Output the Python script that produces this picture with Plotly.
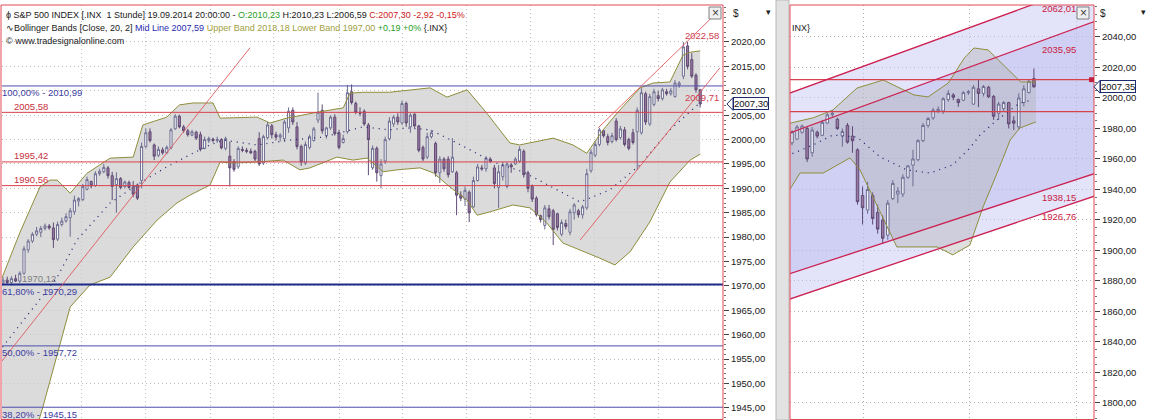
import plotly.graph_objects as go

# ---------------- LEFT PANEL: S&P 500 hourly candles ----------------
L_open = [1970.6,1971.2,1970.7,1971.5,1971.0,1972.6,1977.4,1979.2,1980.6,1981.0,
          1981.8,1982.3,1981.9,1979.6,1982.6,1983.3,1984.0,1985.2,1987.4,1987.7,
          1989.8,1991.4,1990.6,1993.0,1993.4,1994.2,1992.6,1990.8,1992.0,1990.4,
          1991.2,1990.3,1990.7,1991.6,1998.6,2001.6,1998.9,1996.8,1997.9,1997.3,
          1998.3,2002.2,2004.8,2002.6,2001.8,2000.9,2001.5,2001.0,1998.2,1999.8,
          2000.1,1999.8,2000.0,1998.2,1996.6,1995.5,1994.4,1998.0,1997.8,1997.6,
          1997.6,2000.2,1995.2,2000.4,2002.8,2001.0,2000.5,2000.2,2002.4,2006.0,
          2002.6,1998.6,1995.2,1998.4,1999.8,2004.0,2006.0,2000.8,2002.4,2004.6,
          2001.4,1999.4,2001.6,2009.8,2007.4,2005.6,2005.8,2003.0,1994.2,1998.2,
          1992.6,1995.6,2000.2,2003.2,2004.6,2003.4,2007.4,2002.6,2005.2,2002.8,
          1998.4,1996.4,2000.6,1999.2,1993.2,1996.0,1996.0,1993.4,1993.2,1988.6,
          1987.8,1989.2,1986.2,1991.6,1994.2,1994.0,1996.0,1994.2,1990.2,1992.4,
          1990.4,1994.8,1995.0,1995.6,1997.6,1993.2,1990.4,1988.0,1984.4,1982.4,
          1985.8,1985.4,1984.8,1980.6,1982.8,1981.0,1985.0,1985.4,1984.6,1986.0,
          1993.6,1996.8,1999.0,2001.8,2000.6,1999.6,2003.8,2000.4,2002.0,2000.0,
          2001.4,2001.6,2001.4,2009.4,2003.2,2007.2,2009.0,2008.4,2009.8,2009.4,
          2008.8,2011.2,2013.0,2019.2,2016.4,2013.2,2010.23]
L_high = [1971.8,1971.9,1972.0,1972.3,1973.0,1978.2,1979.6,1981.0,1982.1,1982.3,
          1982.8,1982.7,1983.0,1983.2,1984.0,1984.9,1986.0,1988.5,1988.2,1990.9,
          1992.4,1991.6,1993.5,1994.0,1995.0,1994.6,1993.4,1993.3,1992.3,1991.6,
          1991.6,1991.5,1991.0,1999.4,2002.3,2002.3,1999.2,1998.6,1998.4,1998.8,
          2002.4,2005.2,2005.1,2003.0,2002.2,2002.0,2001.8,2001.6,2000.6,2000.6,
          2000.4,2000.6,2000.3,2000.6,1999.6,1996.0,1998.6,1998.6,1998.3,1998.2,
          1997.9,2001.5,2001.0,2003.6,2003.2,2001.6,2001.3,2004.0,2006.6,2006.6,
          2003.6,1999.0,1999.6,2001.0,2002.6,2009.6,2007.2,2002.6,2005.0,2005.2,
          2002.0,2001.0,2011.2,2011.3,2007.8,2006.6,2006.2,2003.4,1998.8,1998.6,
          1996.0,2000.6,2004.6,2005.0,2005.4,2008.0,2007.8,2005.4,2005.4,2003.0,
          1998.8,2001.4,2002.0,1999.6,1996.6,1996.4,1996.6,2000.3,1993.6,1989.4,
          1990.4,1989.6,1992.4,1995.0,1994.8,1996.6,1996.4,1994.8,1994.8,1995.4,
          1995.4,1995.2,1996.4,1998.6,1998.0,1993.6,1990.8,1988.4,1984.6,1986.6,
          1986.6,1985.8,1985.0,1983.6,1983.6,1985.8,1987.0,1985.8,1986.6,1994.0,
          1998.0,1999.6,2002.4,2002.0,2001.2,2001.4,2004.4,2002.8,2002.6,2000.4,
          2002.2,2006.6,2010.6,2009.8,2009.4,2010.4,2010.0,2010.6,2010.4,2010.6,
          2012.2,2012.0,2020.0,2020.0,2017.7,2013.6,2010.23]
L_low = [1970.1,1970.3,1970.12,1970.8,1970.6,1972.3,1976.8,1978.8,1980.2,1980.0,
         1981.4,1981.5,1977.8,1979.2,1982.2,1983.0,1980.1,1984.6,1986.3,1987.4,
         1989.6,1990.0,1990.3,1992.6,1993.1,1992.0,1987.6,1985.0,1989.8,1990.0,
         1989.9,1988.2,1987.6,1990.0,1998.2,1999.4,1995.8,1996.4,1996.9,1997.0,
         1998.0,2002.0,2002.3,2001.4,2000.6,2000.7,1999.9,1997.6,1998.0,1999.3,
         1999.4,1999.3,1998.0,1997.8,1990.4,1993.4,1994.0,1997.4,1997.2,1997.0,
         1995.6,1994.6,1994.8,2000.0,2000.2,1999.8,1999.6,1999.6,2001.4,2003.0,
         1998.0,1994.6,1994.8,1998.0,1999.6,2003.4,2001.2,2000.2,2002.0,2000.8,
         1998.0,1999.2,2001.2,2007.2,2005.2,2004.8,2002.8,1992.7,1993.8,1991.4,
         1990.0,1995.0,1999.8,2002.6,2003.0,2003.0,2002.6,2001.4,2002.4,1997.4,
         1995.6,1996.0,2000.2,1992.4,1991.1,1993.4,1992.2,1993.2,1984.5,1987.4,
         1986.4,1983.1,1986.0,1991.4,1993.6,1993.4,1995.2,1990.0,1986.0,1991.6,
         1990.0,1993.2,1994.8,1995.2,1992.2,1989.2,1987.2,1984.2,1983.0,1981.6,
         1983.6,1978.4,1981.4,1980.2,1981.6,1980.4,1983.6,1984.0,1983.8,1985.6,
         1993.2,1996.4,1998.6,2000.4,1998.8,1999.2,1999.6,2000.0,1998.6,1997.8,
         1999.0,1993.8,2001.0,2003.0,2002.8,2006.8,2007.8,2008.0,2009.0,2009.0,
         2008.6,2010.6,2012.4,2014.4,2012.6,2009.6,2006.59]
L_close = [1971.2,1970.7,1971.5,1971.0,1972.6,1977.6,1979.2,1980.6,1981.3,1981.8,
           1982.3,1981.9,1979.5,1982.6,1983.3,1984.2,1985.4,1987.6,1987.9,1990.4,
           1991.8,1990.5,1993.0,1993.5,1994.3,1992.6,1990.4,1992.0,1990.2,1991.3,
           1990.2,1988.8,1988.0,1998.6,2001.4,1999.8,1996.6,1998.0,1997.3,1998.4,
           2002.0,2004.8,2002.6,2001.8,2001.0,2001.6,2000.3,1998.0,2000.0,2000.2,
           1999.8,2000.0,1998.3,2000.2,1994.2,1993.9,1998.2,1997.8,1997.6,1997.3,
           1996.0,1995.0,2000.6,2003.0,2001.0,2000.5,2000.9,2003.6,2005.8,2003.6,
           1998.6,1995.4,1999.0,2000.6,2002.2,2005.6,2001.8,2002.4,2004.6,2001.2,
           1998.4,2000.2,2009.6,2007.6,2005.6,2005.4,2003.2,2000.0,1998.2,1993.2,
           1995.0,2000.0,2003.8,2004.6,2003.6,2007.4,2003.4,2005.0,2002.8,1997.8,
           1996.0,2000.6,2001.4,1993.2,1996.0,1994.0,1992.8,1996.4,1988.6,1988.0,
           1989.6,1985.0,1991.6,1994.4,1994.0,1996.2,1995.6,1991.0,1993.4,1994.8,
           1995.0,1994.4,1996.0,1998.0,1992.8,1990.0,1987.8,1984.6,1983.6,1986.0,
           1984.2,1981.6,1982.0,1983.0,1982.2,1985.2,1986.6,1984.6,1986.2,1993.0,
           1997.4,1999.0,2002.0,2000.8,1999.4,2000.8,2000.0,2002.2,1999.0,1998.2,
           1999.4,2006.0,2009.6,2003.6,2008.8,2009.8,2008.4,2010.2,2009.4,2010.0,
           2011.6,2011.6,2019.0,2015.0,2013.0,2010.2,2007.30]
L_bars = list(range(len(L_close)))

# Bollinger bands (20, 2)
L_up_x = [-1,4,8.8,11.2,12.9,16,20,25.5,31,33.3,39,42,45.2,50,51.7,60.5,63.6,67.6,74.8,81,
          82.6,85.7,92,101.7,105.7,110.5,115.2,120.7,123,131,135.7,139,142.9,146.4,151.7,
          154.8,158.8,161.9,163.6,166]
L_up_v = [1970.0,1980.9,1990.3,1991.7,1991.7,1989.0,1993.1,1996.2,1996.4,2003.0,2004.6,2007.1,
          2007.5,2007.5,2004.4,2004.6,2003.4,2004.4,2005.6,2006.5,2009.5,2009.7,2009.7,2010.6,
          2008.7,2010.2,2005.4,1999.3,1998.9,2000.3,1998.9,1997.2,2002.0,2005.6,2010.6,2011.6,
          2011.8,2017.3,2017.9,2018.18]
L_lo_x = [-1,9.5,16,20.7,25.5,31,36.7,41.4,44.5,49.3,51.7,54.8,60.5,66.7,70.7,73.1,79.5,83.3,
          86.7,90.5,93.8,99.3,102.4,106.4,110.5,112.9,116,121.4,125.5,129.5,133.3,137.4,142.1,
          145.7,149.3,154,158.8,163.6,166]
L_lo_v = [1915.0,1945.2,1965.7,1970.2,1971.8,1978.0,1983.5,1987.0,1988.6,1990.7,1995.4,1995.2,
          1995.4,1995.8,1993.8,1994.2,1996.4,1995.8,1996.2,1993.4,1993.8,1994.2,1993.2,1990.3,
          1987.6,1984.5,1985.2,1986.6,1986.0,1982.9,1978.8,1977.4,1975.7,1974.3,1977.0,1983.1,
          1991.3,1995.8,1997.00]
L_mid_x = [-1,12.9,17.6,25.5,32.6,39,45.2,49.3,52.4,60.5,68.3,76.2,85.7,92,96.2,101.7,108.1,
           116.7,123.8,137.4,144.5,151.7,158.8,166]
L_mid_v = [1956.5,1971.8,1979.4,1987.0,1991.1,1994.4,1997.2,1998.9,1999.9,1998.9,1999.9,2000.5,
           2002.6,2002.0,2002.4,2002.0,1999.3,1995.4,1993.4,1987.2,1989.7,1994.8,2002.0,2007.59]

# Horizontal levels
L_fib_levels = [2010.99, 1970.29, 1957.72, 1945.15]
L_fib_labels = ["100,00% - 2010,99", "61,80% - 1970,29", "50,00% - 1957,72", "38,20% - 1945,15"]
L_red_levels = [2005.58, 1995.42, 1990.56]
L_red_labels = ["2005,58", "1995,42", "1990,56"]
L_low_mark = 1970.12

# Trend lines (bar index, price)
L_trend_x = [-1, 58.8]
L_trend_v = [1953.8, 2018.8]
L_chan_up_x = [141.7, 170.7]
L_chan_up_v = [2002.4, 2026.6]
L_chan_lo_x = [137.4, 170.7]
L_chan_lo_v = [1979.4, 2014.7]
L_chan_labels = ["2022,58", "2009,71"]
L_chan_label_v = [2021.3, 2008.7]

L_ticks = [1945, 1950, 1955, 1960, 1965, 1970, 1975, 1980, 1985, 1990, 1995, 2000, 2005, 2010, 2015, 2020]
L_vgrid = [18.8, 34.0, 49.3, 64.5, 80.0, 95.2, 110.4, 125.6, 140.8, 156.0]

# ---------------- RIGHT PANEL: daily candles ----------------
R_open = [1970.6,1973.0,1977.5,1980.0,1964.0,1977.5,1975.5,1983.5,1989.0,1986.0,
          1975.0,1982.0,1975.0,1966.0,1936.0,1926.5,1936.0,1925.0,1920.0,1910.0,
          1934.0,1937.0,1937.0,1948.0,1956.0,1959.5,1972.0,1982.0,1987.0,1991.5,
          1991.5,1999.0,2002.0,1999.0,1998.5,2003.5,1996.0,2006.0,2003.0,2007.0,
          2001.0,1990.0,1993.0,1997.0,1985.0,1981.0,1997.0,2003.5,2012.7]
R_high = [1979.0,1982.3,1982.6,1981.0,1981.0,1978.6,1985.6,1990.2,1992.1,1987.0,
          1980.0,1983.6,1981.5,1967.0,1942.0,1945.0,1938.0,1930.0,1923.0,1933.0,
          1946.0,1941.5,1950.0,1956.0,1966.0,1973.0,1983.6,1987.5,1993.5,1994.5,
          2000.5,2005.2,2003.2,1999.5,2004.5,2005.2,2008.5,2011.8,2008.5,2008.0,
          2002.0,1997.5,1998.0,1997.5,1988.0,2003.0,2008.5,2011.8,2019.3]
R_low = [1969.0,1972.5,1976.6,1958.0,1961.5,1973.5,1975.0,1983.0,1987.0,1979.0,
         1968.0,1970.0,1964.0,1930.0,1917.0,1924.0,1917.0,1911.0,1904.5,1907.0,
         1933.0,1931.0,1935.0,1947.0,1942.0,1958.5,1971.0,1980.5,1985.6,1990.0,
         1989.5,1997.5,1998.5,1994.2,1998.0,2002.0,1995.4,1994.0,2001.0,2000.0,
         1985.6,1985.6,1991.5,1980.0,1979.0,1979.0,1994.5,2003.0,2006.6]
R_close = [1977.8,1981.0,1981.6,1960.0,1979.0,1975.0,1984.0,1989.0,1990.0,1980.0,
           1978.0,1971.0,1972.0,1932.0,1928.0,1940.0,1921.0,1914.0,1908.0,1931.0,
           1944.0,1939.0,1948.0,1955.5,1960.0,1972.0,1982.0,1986.5,1992.0,1992.5,
           1999.5,2003.0,2000.5,1997.0,2003.5,2004.0,2007.0,2003.0,2007.5,2000.8,
           1988.0,1996.0,1997.0,1983.0,1983.5,2000.0,2006.0,2011.0,2007.35]
R_bars = list(range(len(R_close)))

R_up_x = [-1,4.2,8.1,12.9,18.1,24.2,27,31,34.2,36.1,38.9,42.9,45.4,48.4]
R_up_v = [1983.0,1987.0,1992.1,2006.5,2011.8,2002.0,2000.7,2009.8,2026.2,2032.8,2031.5,2018.4,
          2010.5,2010.5]
R_lo_x = [-1,1.6,6.2,11.5,13.5,20.8,28.8,31.9,35.3,37.9,40.7,43.3,45.2,48.4]
R_lo_v = [1937.0,1950.8,1950.8,1960.7,1952.8,1902.3,1902.3,1897.1,1903.6,1928.5,1950.8,1972.5,
          1980.3,1984.3]
R_mid_x = [-1,4.2,8.1,12.9,17.5,22.8,27.4,31.9,35.3,37.3,40.7,45.2,47.6]
R_mid_v = [1962.0,1969.2,1975.7,1974.4,1961.3,1952.8,1950.8,1956.1,1967.2,1975.7,1985.6,1996.7,
           1998.7]

R_chan_x = [-1, 60]
R_line1 = [2002.5, 2076.0]
R_line2 = [1976.4, 2050.2]
R_lineA = [1884.1, 1950.4]
R_lineB = [1867.5, 1935.6]
R_chan_labels = ["2062,01", "2035,95", "1938,15", "1926,76"]
R_chan_label_v = [2058.4, 2032.1, 1934.4, 1922.0]
R_red_levels = [2012.0, 1991.0]
R_ticks = list(range(1800, 2041, 20))
R_vgrid = [14.1, 35.3, 56.5]

# ---------------- figure ----------------
W, H = 1150, 420
FONT = "Liberation Sans"
RED = "#d8404c"
BULL_LINE = "#6c6c92"
BEAR_FILL = "#9d7aa2"
BEAR_LINE = "#5e4a74"
BAND = "#8e8e3c"
GRID_DASH = "1px,3px"


def px(x):
    return x / W


def py(y):
    return 1 - y / H


def fmt(v):
    return f"{v:.2f}".replace(".", ",")


def poly_path(xa, ya, xb, yb):
    pts = list(zip(xa, ya)) + list(zip(xb[::-1], yb[::-1]))
    return "M " + " L ".join(f"{x},{y}" for x, y in pts) + " Z"


fig = go.Figure()

# ---- Bollinger band lines and mid lines
for xs, vs, ax, ay in [(L_up_x, L_up_v, "x", "y"), (L_lo_x, L_lo_v, "x", "y"),
                       (R_up_x, R_up_v, "x2", "y2"), (R_lo_x, R_lo_v, "x2", "y2")]:
    fig.add_trace(go.Scatter(x=xs, y=vs, mode="lines", line=dict(color=BAND, width=1),
                             xaxis=ax, yaxis=ay, hoverinfo="skip", showlegend=False))
for xs, vs, ax, ay in [(L_mid_x, L_mid_v, "x", "y"), (R_mid_x, R_mid_v, "x2", "y2")]:
    fig.add_trace(go.Scatter(x=xs, y=vs, mode="lines", line=dict(color="#24246e", width=1.3, dash="1px,5px"),
                             xaxis=ax, yaxis=ay, hoverinfo="skip", showlegend=False))

# ---- horizontal levels (left)
for lv in L_fib_levels:
    fig.add_trace(go.Scatter(x=[-1, 172], y=[lv, lv], mode="lines",
                             line=dict(color="#1f2a8a" if lv == 1970.29 else "#4f4fae", width=2 if lv == 1970.29 else 1),
                             xaxis="x", yaxis="y", hoverinfo="skip", showlegend=False))
for lv in L_red_levels:
    fig.add_trace(go.Scatter(x=[-1, 172], y=[lv, lv], mode="lines", line=dict(color=RED, width=1),
                             xaxis="x", yaxis="y", hoverinfo="skip", showlegend=False))
for lv in R_red_levels:
    fig.add_trace(go.Scatter(x=[-1, 61], y=[lv, lv], mode="lines", line=dict(color=RED, width=1.2),
                             xaxis="x2", yaxis="y2", hoverinfo="skip", showlegend=False))

# ---- trend lines
for xs, vs in [(L_trend_x, L_trend_v), (L_chan_up_x, L_chan_up_v), (L_chan_lo_x, L_chan_lo_v)]:
    fig.add_trace(go.Scatter(x=xs, y=vs, mode="lines", line=dict(color="#e05a60", width=0.9),
                             xaxis="x", yaxis="y", hoverinfo="skip", showlegend=False))
for vs in [R_line1, R_line2, R_lineA, R_lineB]:
    fig.add_trace(go.Scatter(x=R_chan_x, y=vs, mode="lines", line=dict(color="#cc2050", width=1.3),
                             xaxis="x2", yaxis="y2", hoverinfo="skip", showlegend=False))

# ---- candles
fig.add_trace(go.Candlestick(x=L_bars, open=L_open, high=L_high, low=L_low, close=L_close,
                             increasing=dict(fillcolor="#ffffff", line=dict(color=BULL_LINE, width=1)),
                             decreasing=dict(fillcolor=BEAR_FILL, line=dict(color=BEAR_LINE, width=1)),
                             whiskerwidth=0, xaxis="x", yaxis="y", showlegend=False, hoverinfo="skip"))
fig.add_trace(go.Candlestick(x=R_bars, open=R_open, high=R_high, low=R_low, close=R_close,
                             increasing=dict(fillcolor="#f4f4fa", line=dict(color=BULL_LINE, width=1)),
                             decreasing=dict(fillcolor=BEAR_FILL, line=dict(color=BEAR_LINE, width=1)),
                             whiskerwidth=0, xaxis="x2", yaxis="y2", showlegend=False, hoverinfo="skip"))

ann = []
for lv, lab in zip(L_fib_levels, L_fib_labels):
    ann.append(dict(x=px(0), y=lv, xref="paper", yref="y", text=lab, showarrow=False, xanchor="left",
                    yanchor="middle", yshift=-7, font=dict(family=FONT, size=9.5, color="#3c3ca0")))
for lv, lab in zip(L_red_levels, L_red_labels):
    ann.append(dict(x=px(12), y=lv, xref="paper", yref="y", text=lab, showarrow=False, xanchor="left",
                    yanchor="middle", yshift=6, font=dict(family=FONT, size=9.5, color="#c83040")))
ann.append(dict(x=px(20), y=L_low_mark, xref="paper", yref="y", text=fmt(L_low_mark), showarrow=False,
                xanchor="left", yanchor="middle", yshift=7, font=dict(family=FONT, size=9.5, color="#808080")))
for lab, v in zip(L_chan_labels, L_chan_label_v):
    ann.append(dict(x=px(721), y=v, xref="paper", yref="y", text=lab, showarrow=False, xanchor="right",
                    yanchor="middle", font=dict(family=FONT, size=9.5, color="#d04050")))
for lab, v in zip(R_chan_labels, R_chan_label_v):
    ann.append(dict(x=px(1078), y=v, xref="paper", yref="y2", text=lab, showarrow=False, xanchor="right",
                    yanchor="middle", font=dict(family=FONT, size=9.5, color="#c82040")))
# header
hdr1 = ("ϕ S&P 500 INDEX [.INX  1 Stunde] 19.09.2014 20:00:00 - <span style='color:#1fa01f'>O:2010,23</span> "
        "H:2010,23 L:2006,59 <span style='color:#d02020'>C:2007,30 -2,92 -0,15%</span>")
hdr2 = ("∿Bollinger Bands [Close, 20, 2] <span style='color:#2a2ab0'>Mid Line 2007,59</span> "
        "<span style='color:#a0a040'>Upper Band 2018,18 Lower Band 1997,00</span> "
        "<span style='color:#1fa01f'>+0,19 +0%</span> {.INX}")
ann.append(dict(x=px(4), y=py(15), xref="paper", yref="paper", text=hdr1, showarrow=False, xanchor="left",
                yanchor="middle", font=dict(family=FONT, size=9, color="#202020")))
ann.append(dict(x=px(4), y=py(28), xref="paper", yref="paper", text=hdr2, showarrow=False, xanchor="left",
                yanchor="middle", font=dict(family=FONT, size=9, color="#202020")))
ann.append(dict(x=px(4), y=py(41), xref="paper", yref="paper", text="© www.tradesignalonline.com", showarrow=False,
                xanchor="left", yanchor="middle", font=dict(family=FONT, size=9, color="#202020")))
ann.append(dict(x=px(790), y=py(28), xref="paper", yref="paper", text="INX}", showarrow=False, xanchor="left",
                yanchor="middle", font=dict(family=FONT, size=9, color="#202020")))
for xx in [731, 1098]:
    ann.append(dict(x=px(xx), y=py(13), xref="paper", yref="paper", text="$", showarrow=False, xanchor="left",
                    yanchor="middle", font=dict(family=FONT, size=10, color="#202020")))
for xx in [768, 1143]:
    ann.append(dict(x=px(xx), y=py(12), xref="paper", yref="paper", text="▾", showarrow=False, xanchor="center",
                    yanchor="middle", font=dict(family=FONT, size=9, color="#202020")))
for xx in [715, 1083]:
    ann.append(dict(x=px(xx), y=py(13), xref="paper", yref="paper", text="×", showarrow=False, xanchor="center",
                    yanchor="middle", font=dict(family=FONT, size=12, color="#404040")))
ann.append(dict(x=px(733), y=L_close[-1], xref="paper", yref="y", text=fmt(L_close[-1]), showarrow=False,
                xanchor="left", yanchor="middle", bgcolor="#ffffff", bordercolor="#1c2c6c", borderwidth=1, borderpad=0,
                font=dict(family=FONT, size=9.5, color="#101010")))
ann.append(dict(x=px(1100), y=R_close[-1], xref="paper", yref="y2", text=fmt(R_close[-1]), showarrow=False,
                xanchor="left", yanchor="middle", bgcolor="#ffffff", bordercolor="#1c2c6c", borderwidth=1, borderpad=0,
                font=dict(family=FONT, size=9.5, color="#101010")))

L_tag, R_tag = L_close[-1], R_close[-1]
shapes = [
    # right panel channel fills (below traces)
    dict(type="path", xref="x2", yref="y2", path=poly_path(R_chan_x, R_line1, R_chan_x, R_lineB),
         fillcolor="rgba(200,200,246,0.5)", line=dict(width=0), layer="between"),
    dict(type="path", xref="x2", yref="y2", path=poly_path(R_chan_x, R_line2, R_chan_x, R_lineA),
         fillcolor="rgba(172,172,236,0.35)", line=dict(width=0), layer="between"),
    # Bollinger fills (below candles)
    dict(type="path", xref="x", yref="y", path=poly_path(L_up_x, L_up_v, L_lo_x, L_lo_v),
         fillcolor="rgba(205,205,205,0.72)", line=dict(width=0), layer="between"),
    dict(type="path", xref="x2", yref="y2", path=poly_path(R_up_x, R_up_v, R_lo_x, R_lo_v),
         fillcolor="rgba(175,175,175,0.4)", line=dict(width=0), layer="between"),
    # splitter between panels
    dict(type="rect", xref="paper", yref="paper", x0=px(776), x1=px(789), y0=0, y1=1,
         fillcolor="#e2e2e2", line=dict(color="#b8b8b8", width=1), layer="above"),
    # panel frames
    dict(type="rect", xref="paper", yref="paper", x0=px(1), x1=px(723), y0=py(419.5), y1=py(5),
         line=dict(color="#e04a56", width=1), layer="above"),
    dict(type="rect", xref="paper", yref="paper", x0=px(790), x1=px(1094), y0=py(419.5), y1=py(5),
         line=dict(color="#e04a56", width=1), layer="above"),
    # close boxes
    dict(type="rect", xref="paper", yref="paper", x0=px(709), x1=px(721), y0=py(19), y1=py(7),
         fillcolor="#f0f0f0", line=dict(color="#808080", width=1), layer="above"),
    dict(type="rect", xref="paper", yref="paper", x0=px(1077), x1=px(1089), y0=py(19), y1=py(7),
         fillcolor="#f0f0f0", line=dict(color="#808080", width=1), layer="above"),
    # red marker on right edge
    dict(type="rect", xref="paper", yref="y2", x0=px(1089), x1=px(1094), y0=R_red_levels[0] - 1.6,
         y1=R_red_levels[0] + 1.6, fillcolor="#c02040", line=dict(width=0), layer="above"),
    # price tag pointers
    dict(type="path", xref="paper", yref="y",
         path=f"M {px(727)},{L_tag} L {px(733)},{L_tag + 1.3} L {px(733)},{L_tag - 1.3} Z",
         fillcolor="#ffffff", line=dict(color="#1c2c6c", width=1), layer="above"),
    dict(type="path", xref="paper", yref="y2",
         path=f"M {px(1094)},{R_tag} L {px(1100)},{R_tag + 4.2} L {px(1100)},{R_tag - 4.2} Z",
         fillcolor="#ffffff", line=dict(color="#1c2c6c", width=1), layer="above"),
]

TOP = 1 - 5 / H
fig.update_layout(
    width=W, height=H, margin=dict(l=0, r=0, t=0, b=0),
    paper_bgcolor="#ffffff", plot_bgcolor="#ffffff", showlegend=False,
    annotations=ann, shapes=shapes,
    xaxis=dict(domain=[px(2), px(723)], range=[-0.238, 171.43], showticklabels=False, ticks="",
               showgrid=True, gridcolor="#bdbdbd", griddash=GRID_DASH, gridwidth=1,
               tickvals=L_vgrid, zeroline=False,
               rangeslider=dict(visible=False), fixedrange=True),
    yaxis=dict(domain=[0, TOP], range=[1942.53, 2027.58], side="right", anchor="x",
               tickvals=L_ticks, ticktext=[fmt(t) for t in L_ticks], ticks="outside", ticklen=5,
               tickcolor="#404040", showgrid=True, gridcolor="#bdbdbd", griddash=GRID_DASH, zeroline=False,
               tickfont=dict(family=FONT, size=9.5, color="#202020"), fixedrange=True,
               minor=dict(ticks="outside", ticklen=2, dtick=1, tickcolor="#707070", showgrid=False)),
    xaxis2=dict(domain=[px(790), px(1094)], range=[-0.397, 59.92], showticklabels=False, ticks="",
                showgrid=True, gridcolor="#b0b0b0", griddash=GRID_DASH, tickvals=R_vgrid, zeroline=False,
                rangeslider=dict(visible=False), fixedrange=True),
    yaxis2=dict(domain=[0, TOP], range=[1788.8, 2060.98], side="right", anchor="x2",
                tickvals=R_ticks, ticktext=[fmt(t) for t in R_ticks], ticks="outside", ticklen=5,
                tickcolor="#404040", showgrid=True, gridcolor="#b0b0b0", griddash=GRID_DASH, zeroline=False,
                tickfont=dict(family=FONT, size=9.5, color="#202020"), fixedrange=True,
                minor=dict(ticks="outside", ticklen=2, dtick=5, tickcolor="#707070", showgrid=False)),
)

fig.write_html("out.html", config={"displayModeBar": False},
               post_script="document.body.style.margin='0px';")
